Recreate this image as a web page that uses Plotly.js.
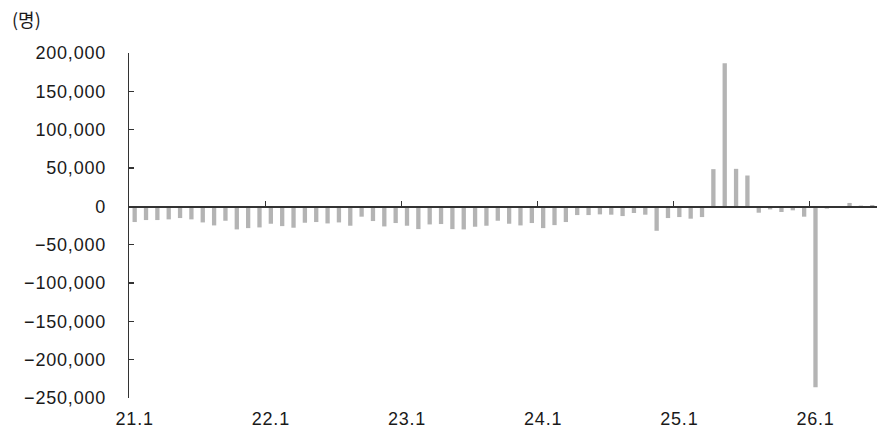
<!DOCTYPE html>
<html>
<head>
<meta charset="utf-8">
<script src="https://cdn.plot.ly/plotly-3.0.1.min.js"></script>
<style>
  html, body { margin: 0; padding: 0; background: #fff; }
  #chart { width: 877px; height: 432px; }
  #chart .xtick text, #chart .ytick text { letter-spacing: 0.8px; }
</style>
</head>
<body>
<div id="chart"></div>
<script>
// Month categories (yy.m)
const months = [
  "21.1","21.2","21.3","21.4","21.5","21.6","21.7","21.8","21.9","21.10","21.11","21.12",
  "22.1","22.2","22.3","22.4","22.5","22.6","22.7","22.8","22.9","22.10","22.11","22.12",
  "23.1","23.2","23.3","23.4","23.5","23.6","23.7","23.8","23.9","23.10","23.11","23.12",
  "24.1","24.2","24.3","24.4","24.5","24.6","24.7","24.8","24.9","24.10","24.11","24.12",
  "25.1","25.2","25.3","25.4","25.5","25.6","25.7","25.8","25.9","25.10","25.11","25.12",
  "26.1","26.2","26.3","26.4","26.5","26.6"
];

// Monthly values (명)
const values = [
  -20500, -17900, -17900, -17000, -15300, -17000, -21000, -24900, -18800, -30100, -28400, -27500,
  -22700, -25800, -27900, -21400, -20500, -22300, -21000, -25300, -13500, -19200, -26200, -21800,
  -25300, -29700, -23600, -23100, -29700, -30100, -26600, -25300, -18800, -22700, -24900, -21800,
  -28400, -24500, -20500, -11400, -11400, -10500, -10900, -12700, -8700, -10900, -31900, -15300,
  -14000, -16100, -14000, 48500, 186500, 48900, 40200, -8300, -4000, -7400, -5200, -13500,
  -236000, -3000, -500, 4400, 1000, 1700
];

// Axis labels
const yearLabels = ["21.1", "22.1", "23.1", "24.1", "25.1", "26.1"];
const yTicks = [200000, 150000, 100000, 50000, 0, -50000, -100000, -150000, -200000, -250000];
const unitLabel = "(명)";

const idx = months.map((m, i) => i);
const yearIdx = yearLabels.map(l => months.indexOf(l));
const boundaryIdx = yearIdx.slice(1).map(i => i - 0.5);

const yMin = -250000, yMax = 200000;
const xRange = [-0.5, 65.42];
const zeroPos = (0 - yMin) / (yMax - yMin);

const fontNum = { family: "Liberation Sans, Arial, sans-serif", size: 18, color: "#1a1a1a" };

const bars = {
  type: "bar",
  x: idx,
  y: values,
  xaxis: "x",
  marker: { color: "#b4b4b4", line: { width: 0 } },
  hoverinfo: "skip",
  showlegend: false
};

// invisible companion trace so the zero-positioned category axis (x2) is drawn
const axisHolder = {
  type: "scatter",
  mode: "none",
  x: idx,
  y: values,
  xaxis: "x2",
  hoverinfo: "skip",
  showlegend: false
};

const layout = {
  width: 877,
  height: 432,
  margin: { l: 129, r: 0, t: 53, b: 34 },
  paper_bgcolor: "#fff",
  plot_bgcolor: "#fff",
  bargap: 0.62,
  title: {
    text: unitLabel,
    font: { family: "Noto Sans CJK KR, sans-serif", size: 18, color: "#1a1a1a" },
    xref: "container", x: 12 / 877, xanchor: "left",
    yref: "container", y: 1 - 20.5 / 432, yanchor: "middle"
  },
  xaxis: {
    type: "linear",
    range: xRange,
    showgrid: false,
    zeroline: false,
    showline: false,
    ticks: "",
    tickmode: "array",
    tickvals: yearIdx,
    ticktext: yearLabels,
    tickfont: fontNum,
    ticklabelstandoff: 8
  },
  xaxis2: {
    type: "linear",
    overlaying: "x",
    range: xRange,
    anchor: "free",
    position: zeroPos,
    side: "bottom",
    showgrid: false,
    zeroline: false,
    showline: true,
    linecolor: "#333",
    linewidth: 1.5,
    ticks: "inside",
    ticklen: 5,
    tickwidth: 1.3,
    tickcolor: "#333",
    tickmode: "array",
    tickvals: boundaryIdx,
    showticklabels: false
  },
  yaxis: {
    range: [yMin, yMax],
    showgrid: false,
    zeroline: false,
    showline: true,
    linecolor: "#333",
    linewidth: 1.3,
    ticks: "inside",
    ticklen: 5,
    tickwidth: 1.2,
    tickcolor: "#333",
    tickmode: "array",
    tickvals: yTicks,
    tickformat: ",",
    tickfont: fontNum,
    ticklabelstandoff: 18
  }
};

Plotly.newPlot("chart", [bars, axisHolder], layout, { staticPlot: true, displayModeBar: false });
</script>
</body>
</html>
